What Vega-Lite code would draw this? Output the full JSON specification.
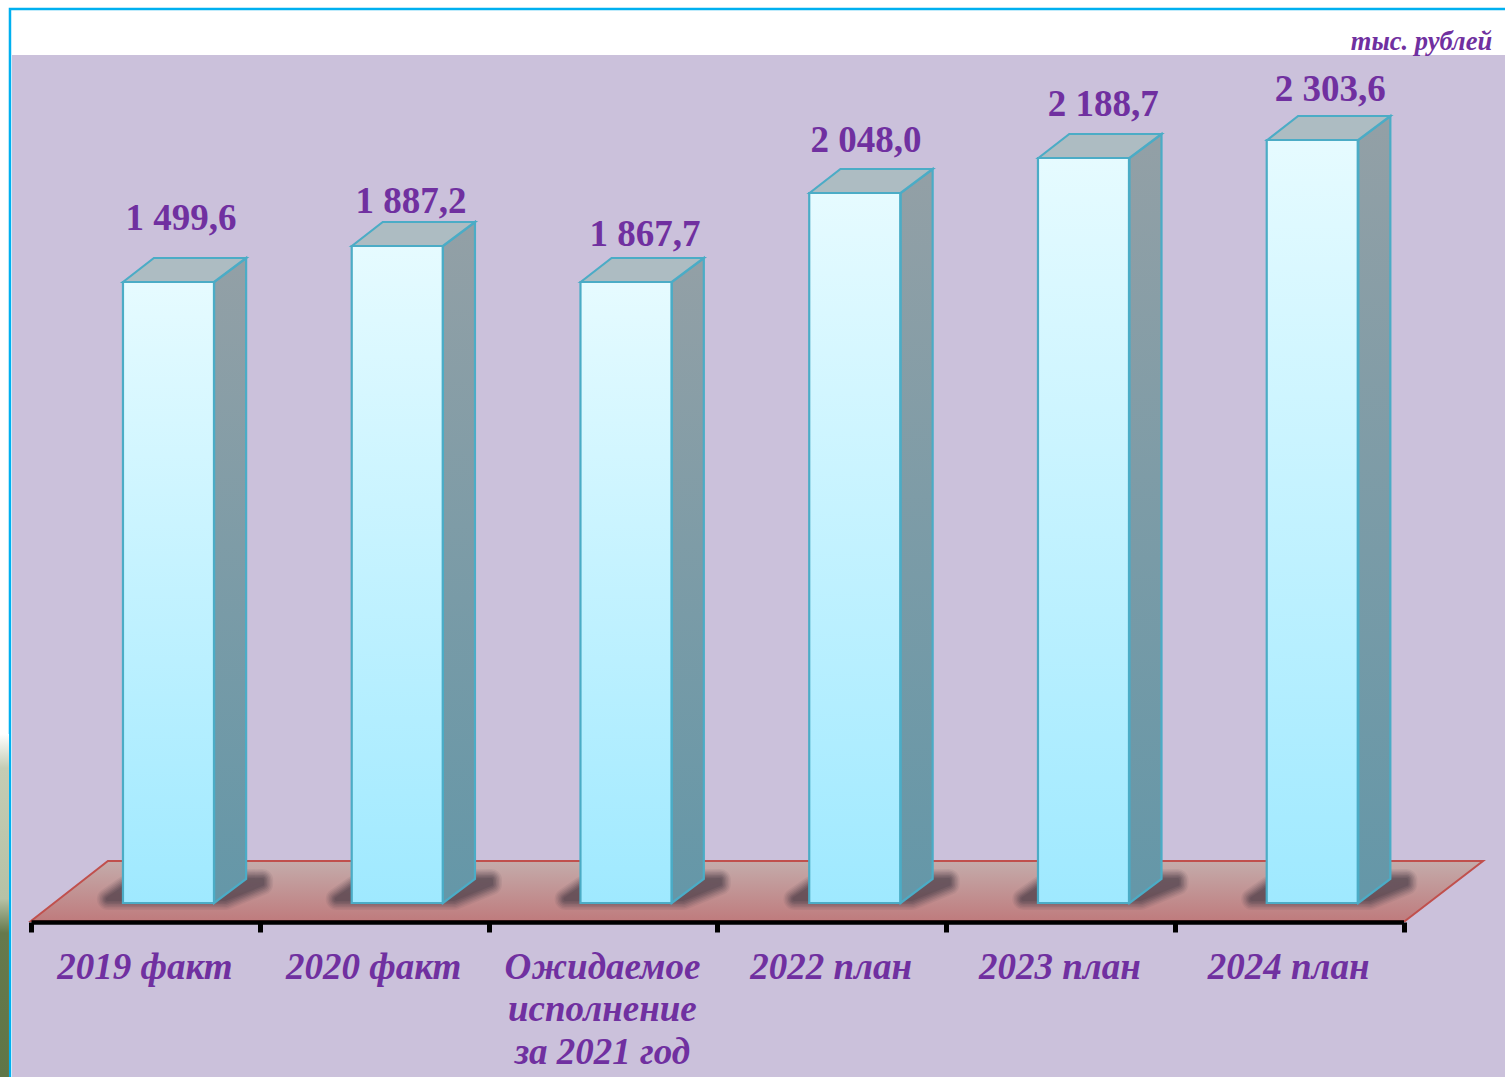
{
"$schema":"https://vega.github.io/schema/vega-lite/v6.json",
"width":1505,"height":1077,"autosize":{"type":"none"},"padding":0,"background":"#ffffff",
"view":{"stroke":null},
"datasets":{
"bars":[
{"period":"2019 факт","value":"1 499,6","level":1866,"floor":3,"label_slot":0.6555,"label_level":2022},
{"period":"2020 факт","value":"1 887,2","level":1974,"floor":3,"label_slot":1.6606,"label_level":2073},
{"period":"Ожидаемое\nисполнение\nза 2021 год","value":"1 867,7","level":1866,"floor":3,"label_slot":2.683,"label_level":1974},
{"period":"2022 план","value":"2 048,0","level":2133,"floor":3,"label_slot":3.649,"label_level":2256},
{"period":"2023 план","value":"2 188,7","level":2238,"floor":3,"label_slot":4.685,"label_level":2364},
{"period":"2024 план","value":"2 303,6","level":2292,"floor":3,"label_slot":5.677,"label_level":2409}],
"sides":[
{"bar":0,"slot":0.8,"high":1866,"low":3},{"bar":0,"slot":0.94,"high":1938,"low":75},
{"bar":1,"slot":1.8,"high":1974,"low":3},{"bar":1,"slot":1.94,"high":2046,"low":75},
{"bar":2,"slot":2.8,"high":1866,"low":3},{"bar":2,"slot":2.94,"high":1938,"low":75},
{"bar":3,"slot":3.8,"high":2133,"low":3},{"bar":3,"slot":3.94,"high":2205,"low":75},
{"bar":4,"slot":4.8,"high":2238,"low":3},{"bar":4,"slot":4.94,"high":2310,"low":75},
{"bar":5,"slot":5.8,"high":2292,"low":3},{"bar":5,"slot":5.94,"high":2364,"low":75}],
"tops":[
{"bar":0,"slot":0.402,"high":1866,"low":1866},{"bar":0,"slot":0.537,"high":1938,"low":1866},{"bar":0,"slot":0.8,"high":1938,"low":1866},{"bar":0,"slot":0.94,"high":1938,"low":1938},
{"bar":1,"slot":1.402,"high":1974,"low":1974},{"bar":1,"slot":1.537,"high":2046,"low":1974},{"bar":1,"slot":1.8,"high":2046,"low":1974},{"bar":1,"slot":1.94,"high":2046,"low":2046},
{"bar":2,"slot":2.402,"high":1866,"low":1866},{"bar":2,"slot":2.537,"high":1938,"low":1866},{"bar":2,"slot":2.8,"high":1938,"low":1866},{"bar":2,"slot":2.94,"high":1938,"low":1938},
{"bar":3,"slot":3.402,"high":2133,"low":2133},{"bar":3,"slot":3.537,"high":2205,"low":2133},{"bar":3,"slot":3.8,"high":2205,"low":2133},{"bar":3,"slot":3.94,"high":2205,"low":2205},
{"bar":4,"slot":4.402,"high":2238,"low":2238},{"bar":4,"slot":4.537,"high":2310,"low":2238},{"bar":4,"slot":4.8,"high":2310,"low":2238},{"bar":4,"slot":4.94,"high":2310,"low":2310},
{"bar":5,"slot":5.402,"high":2292,"low":2292},{"bar":5,"slot":5.537,"high":2364,"low":2292},{"bar":5,"slot":5.8,"high":2364,"low":2292},{"bar":5,"slot":5.94,"high":2364,"low":2364}],
"shadows":[
{"bar":0,"slot":0.336,"high":15,"low":15},{"bar":0,"slot":0.41,"high":50,"low":15},{"bar":0,"slot":0.848,"high":70,"low":15},{"bar":0,"slot":1.01,"high":72,"low":60},
{"bar":1,"slot":1.336,"high":15,"low":15},{"bar":1,"slot":1.41,"high":50,"low":15},{"bar":1,"slot":1.848,"high":70,"low":15},{"bar":1,"slot":2.01,"high":72,"low":60},
{"bar":2,"slot":2.336,"high":15,"low":15},{"bar":2,"slot":2.41,"high":50,"low":15},{"bar":2,"slot":2.848,"high":70,"low":15},{"bar":2,"slot":3.01,"high":72,"low":60},
{"bar":3,"slot":3.336,"high":15,"low":15},{"bar":3,"slot":3.41,"high":50,"low":15},{"bar":3,"slot":3.848,"high":70,"low":15},{"bar":3,"slot":4.01,"high":72,"low":60},
{"bar":4,"slot":4.336,"high":15,"low":15},{"bar":4,"slot":4.41,"high":50,"low":15},{"bar":4,"slot":4.848,"high":70,"low":15},{"bar":4,"slot":5.01,"high":72,"low":60},
{"bar":5,"slot":5.336,"high":15,"low":15},{"bar":5,"slot":5.41,"high":50,"low":15},{"bar":5,"slot":5.848,"high":70,"low":15},{"bar":5,"slot":6.01,"high":72,"low":60}]
},
"layer":[
{"data":{"values":[{"from":-0.0919,"to":6.47,"high":2685,"low":-540}]},
 "mark":{"type":"rect","fill":"#ffffff","stroke":"#00b0f0","strokeWidth":2.5},
 "encoding":{"x":{"field":"from","type":"quantitative","scale":{"domain":[-0.1355,6.441],"nice":false,"zero":false},"axis":null},"x2":{"field":"to"},
  "y":{"field":"high","type":"quantitative","scale":{"domain":[-519,2712],"nice":false,"zero":false},"axis":null},"y2":{"field":"low"}}},
{"data":{"values":[{"from":-0.083,"to":6.47,"high":2547,"low":-540}]},
 "mark":{"type":"rect","fill":"#cbc1db"},
 "encoding":{"x":{"field":"from","type":"quantitative","scale":{"domain":[-0.1355,6.441],"nice":false,"zero":false},"axis":null},"x2":{"field":"to"},
  "y":{"field":"high","type":"quantitative","axis":null},"y2":{"field":"low"}}},
{"data":{"values":[{"from":-0.1355,"to":-0.0963,"high":510,"low":-519}]},
 "mark":{"type":"rect","fill":{"x1":0,"y1":0,"x2":0,"y2":1,"gradient":"linear","stops":[{"offset":0,"color":"#ffffff"},{"offset":0.1,"color":"#c4ccb4"},{"offset":0.48,"color":"#b6c2a6"},{"offset":0.58,"color":"#66794c"},{"offset":1,"color":"#5f7647"}]}},
 "encoding":{"x":{"field":"from","type":"quantitative","scale":{"domain":[-0.1355,6.441],"nice":false,"zero":false},"axis":null},"x2":{"field":"to"},
  "y":{"field":"high","type":"quantitative","axis":null},"y2":{"field":"low"}}},
{"data":{"values":[{"slot":0,"high":-51,"low":-51},{"slot":0.336,"high":129,"low":-51},{"slot":6.004,"high":129,"low":-51},{"slot":6.345,"high":129,"low":129}]},
 "mark":{"type":"area","orient":"vertical","stroke":"#c0504d","strokeWidth":2,"fill":{"x1":0,"y1":0,"x2":0,"y2":1,"gradient":"linear","stops":[{"offset":0,"color":"#c4acab"},{"offset":1,"color":"#bf7b7d"}]}},
 "encoding":{"x":{"field":"slot","type":"quantitative","scale":{"domain":[-0.1355,6.441],"nice":false,"zero":false},"axis":null},
  "y":{"field":"high","type":"quantitative","axis":null},"y2":{"field":"low"}}},
{"data":{"name":"shadows"},
 "mark":{"type":"area","orient":"vertical","fill":"#463a46","stroke":"#463a46","strokeJoin":"round","strokeWidth":22,"opacity":0.08},
 "encoding":{"x":{"field":"slot","type":"quantitative","scale":{"domain":[-0.1355,6.441],"nice":false,"zero":false},"axis":null},
  "y":{"field":"high","type":"quantitative","axis":null},"y2":{"field":"low"},"detail":{"field":"bar"}}},
{"data":{"name":"shadows"},
 "mark":{"type":"area","orient":"vertical","fill":"#463a46","stroke":"#463a46","strokeJoin":"round","strokeWidth":19,"opacity":0.1},
 "encoding":{"x":{"field":"slot","type":"quantitative","scale":{"domain":[-0.1355,6.441],"nice":false,"zero":false},"axis":null},
  "y":{"field":"high","type":"quantitative","axis":null},"y2":{"field":"low"},"detail":{"field":"bar"}}},
{"data":{"name":"shadows"},
 "mark":{"type":"area","orient":"vertical","fill":"#463a46","stroke":"#463a46","strokeJoin":"round","strokeWidth":16,"opacity":0.12},
 "encoding":{"x":{"field":"slot","type":"quantitative","scale":{"domain":[-0.1355,6.441],"nice":false,"zero":false},"axis":null},
  "y":{"field":"high","type":"quantitative","axis":null},"y2":{"field":"low"},"detail":{"field":"bar"}}},
{"data":{"name":"shadows"},
 "mark":{"type":"area","orient":"vertical","fill":"#463a46","stroke":"#463a46","strokeJoin":"round","strokeWidth":13,"opacity":0.15},
 "encoding":{"x":{"field":"slot","type":"quantitative","scale":{"domain":[-0.1355,6.441],"nice":false,"zero":false},"axis":null},
  "y":{"field":"high","type":"quantitative","axis":null},"y2":{"field":"low"},"detail":{"field":"bar"}}},
{"data":{"name":"shadows"},
 "mark":{"type":"area","orient":"vertical","fill":"#463a46","stroke":"#463a46","strokeJoin":"round","strokeWidth":10,"opacity":0.18},
 "encoding":{"x":{"field":"slot","type":"quantitative","scale":{"domain":[-0.1355,6.441],"nice":false,"zero":false},"axis":null},
  "y":{"field":"high","type":"quantitative","axis":null},"y2":{"field":"low"},"detail":{"field":"bar"}}},
{"data":{"name":"shadows"},
 "mark":{"type":"area","orient":"vertical","fill":"#463a46","stroke":"#463a46","strokeJoin":"round","strokeWidth":7,"opacity":0.2},
 "encoding":{"x":{"field":"slot","type":"quantitative","scale":{"domain":[-0.1355,6.441],"nice":false,"zero":false},"axis":null},
  "y":{"field":"high","type":"quantitative","axis":null},"y2":{"field":"low"},"detail":{"field":"bar"}}},
{"data":{"name":"shadows"},
 "mark":{"type":"area","orient":"vertical","fill":"#463a46","stroke":"#463a46","strokeJoin":"round","strokeWidth":4,"opacity":0.22},
 "encoding":{"x":{"field":"slot","type":"quantitative","scale":{"domain":[-0.1355,6.441],"nice":false,"zero":false},"axis":null},
  "y":{"field":"high","type":"quantitative","axis":null},"y2":{"field":"low"},"detail":{"field":"bar"}}},
{"data":{"name":"sides"},
 "mark":{"type":"area","orient":"vertical","stroke":"#4bacc6","strokeWidth":2.2,"fill":{"x1":0,"y1":0,"x2":0,"y2":1,"gradient":"linear","stops":[{"offset":0,"color":"#93a0a6"},{"offset":1,"color":"#6497a8"}]}},
 "encoding":{"x":{"field":"slot","type":"quantitative","scale":{"domain":[-0.1355,6.441],"nice":false,"zero":false},"axis":null},
  "y":{"field":"high","type":"quantitative","axis":null},"y2":{"field":"low"},"detail":{"field":"bar"}}},
{"data":{"name":"tops"},
 "mark":{"type":"area","orient":"vertical","stroke":"#4bacc6","strokeWidth":2.2,"fill":"#adbcc2"},
 "encoding":{"x":{"field":"slot","type":"quantitative","scale":{"domain":[-0.1355,6.441],"nice":false,"zero":false},"axis":null},
  "y":{"field":"high","type":"quantitative","axis":null},"y2":{"field":"low"},"detail":{"field":"bar"}}},
{"data":{"name":"bars"},
 "mark":{"type":"bar","width":91,"xOffset":23.1,"stroke":"#4bacc6","strokeWidth":2.2,"fill":{"x1":0,"y1":0,"x2":0,"y2":1,"gradient":"linear","stops":[{"offset":0,"color":"#e6fbff"},{"offset":1,"color":"#9fe9ff"}]}},
 "encoding":{
  "x":{"field":"period","type":"nominal","sort":null,"scale":{"range":[31,1403.5],"paddingInner":0,"paddingOuter":0},
   "axis":{"title":null,"offset":-155,"zindex":1,"domainColor":"#000000","domainWidth":4.5,"tickColor":"#000000","tickWidth":5,"tickSize":10,"tickBand":"extent","labelAngle":0,"labelAlign":"center","labelBaseline":"alphabetic","labelFont":"Liberation Serif","labelFontWeight":"bold","labelFontStyle":"italic","labelFontSize":37,"labelColor":"#7030a0","labelLimit":0,"labelOverlap":false,"labelPadding":46,"labelOffset":-1,"labelLineHeight":42.5,"labelExpr":"split(datum.label,'\\n')"}},
  "y":{"field":"level","type":"quantitative","axis":null},"y2":{"field":"floor"}}},
{"data":{"name":"bars"},
 "mark":{"type":"text","font":"Liberation Serif","fontWeight":"bold","fontSize":37,"color":"#7030a0","baseline":"alphabetic","align":"center"},
 "encoding":{"x":{"field":"label_slot","type":"quantitative","scale":{"domain":[-0.1355,6.441],"nice":false,"zero":false},"axis":null},
  "y":{"field":"label_level","type":"quantitative","axis":null},"text":{"field":"value"}}},
{"data":{"values":[{"unit":"тыс. рублей","slot":6.385,"level":2562}]},
 "mark":{"type":"text","font":"Liberation Serif","fontWeight":"bold","fontStyle":"italic","fontSize":26.5,"color":"#7030a0","baseline":"alphabetic","align":"right"},
 "encoding":{"x":{"field":"slot","type":"quantitative","scale":{"domain":[-0.1355,6.441],"nice":false,"zero":false},"axis":null},
  "y":{"field":"level","type":"quantitative","axis":null},"text":{"field":"unit"}}}
],
"resolve":{"scale":{"x":"independent"},"axis":{"x":"independent"}}
}
